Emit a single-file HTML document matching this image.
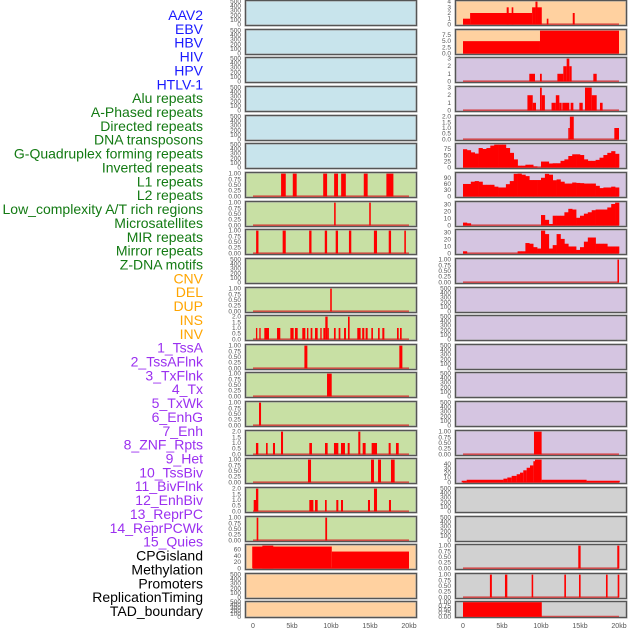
<!DOCTYPE html>
<html><head><meta charset="utf-8"><style>
html,body{margin:0;padding:0;background:#fff;width:630px;height:630px;overflow:hidden}
svg{display:block}
</style></head><body>
<svg id="chart" width="630" height="630" xmlns="http://www.w3.org/2000/svg"></svg>
<script>
// ---- labels ----
const labelTexts = ["AAV2","EBV","HBV","HIV","HPV","HTLV-1","Alu repeats","A-Phased repeats","Directed repeats","DNA transposons","G-Quadruplex forming repeats","Inverted repeats","L1 repeats","L2 repeats","Low_complexity A/T rich regions","Microsatellites","MIR repeats","Mirror repeats","Z-DNA motifs","CNV","DEL","DUP","INS","INV","1_TssA","2_TssAFlnk","3_TxFlnk","4_Tx","5_TxWk","6_EnhG","7_Enh","8_ZNF_Rpts","9_Het","10_TssBiv","11_BivFlnk","12_EnhBiv","13_ReprPC","14_ReprPCWk","15_Quies","CPGisland","Methylation","Promoters","ReplicationTiming","TAD_boundary"];
const labelGroups = [0,0,0,0,0,0,1,1,1,1,1,1,1,1,1,1,1,1,1,2,2,2,2,2,3,3,3,3,3,3,3,3,3,3,3,3,3,3,3,4,4,4,4,4];
const groupColors = ["#1a1aff","#137a13","#ffa500","#9b30f0","#000000"];

// ---- tick label arrays ----
const ticksEmpty = ["0","100","200","300","400","500"];
const ticksEmptyVals = [0,100,200,300,400,500];
const ticksUnit = ["0.00","0.25","0.50","0.75","1.00"];
const ticksUnitVals = [0,0.25,0.5,0.75,1];
const ticksTwo = ["0.0","0.5","1.0","1.5","2.0"];
const ticksTwoVals = [0,0.5,1,1.5,2];
const ticksCpg = ["0","20","40","60"];
const ticksCpgVals = [0,20,40,60];
const ticksAav = ["0","1","2","3","4"];
const ticksAavVals = [0,1,2,3,4];
const ticksEbv = ["0.0","2.5","5.0","7.5"];
const ticksEbvVals = [0,2.5,5,7.5];
const ticksThree = ["0","1","2","3"];
const ticksThreeVals = [0,1,2,3];
const ticksGquad = ["0","25","50","75"];
const ticksGquadVals = [0,25,50,75];
const ticksL1 = ["0","30","60","90"];
const ticksL1Vals = [0,30,60,90];
const ticksThirty = ["0","10","20","30"];
const ticksThirtyVals = [0,10,20,30];
const ticksForty = ["0","10","20","30","40"];
const ticksFortyVals = [0,10,20,30,40];
const xTickLabels = ["0","5kb","10kb","15kb","20kb"];
const xTickVals = [0,5,10,15,20];

// ---- left column data: [startKb, endKb, value] ----
const leftL1 = [[3.6,4.2,1],[5.1,5.6,1],[9.0,9.5,1],[10.4,10.9,1],[11.3,11.9,1],[14.2,14.7,1],[17.1,18.0,1]];
const leftL2 = [[10.4,10.6,1],[14.9,15.1,1]];
const leftLowComplex = [[0.4,0.7,1],[3.8,4.2,1],[7.2,7.5,1],[9.2,9.5,1],[10.6,10.9,1],[12.3,12.6,1],[15.5,15.9,1],[17.4,17.7,1],[19.4,19.6,1]];
const leftCnv = [[9.9,10.1,1]];
const leftDel = [[0.38,0.55,1],[0.81,0.98,1],[1.45,2.05,1],[3.08,3.5,1],[4.79,5.21,1],[5.38,5.73,1],[6.32,6.71,1],[6.92,7.1,1],[7.39,7.61,1],[7.95,8.29,1],[8.63,8.8,1],[9.02,9.27,1],[9.27,9.57,2],[9.57,9.66,1],[10.38,10.6,1],[10.98,11.2,1],[11.67,11.92,1],[12.18,12.39,2],[13.37,13.8,1],[14.0,14.27,1],[14.44,14.7,1],[15.17,15.38,1],[16.03,16.24,1],[16.58,16.84,1],[18.46,18.68,1],[18.85,19.06,1]];
const leftRow12 = [[6.59,6.97,1],[18.76,19.15,1]];
const leftRow13 = [[9.49,10.09,1]];
const leftRow14 = [[0.77,1.03,1]];
const leftRow15 = [[0.38,0.68,1],[1.67,1.88,1],[2.56,2.82,1],[3.59,3.85,2],[7.22,7.56,1],[9.23,9.57,1],[10.38,10.94,1],[11.28,11.79,1],[12.14,12.39,1],[13.5,13.76,2],[14.06,14.44,1],[15.21,15.9,1],[17.39,17.65,1],[18.33,18.68,1]];
const leftRow16 = [[7.05,7.44,1],[15.13,15.51,1],[16.03,16.41,1],[17.69,18.16,1]];
const leftRow17 = [[0.09,0.43,1],[0.38,0.68,2],[7.22,7.74,1],[7.95,8.29,1],[9.23,9.45,1],[10.68,10.94,1],[11.28,11.54,1],[14.74,15.0,1],[15.51,15.9,2],[17.43,17.69,1]];
const leftRow18 = [[0.47,0.68,1],[9.27,9.5,1]];
const leftCpg = [[-0.1,10.1,70],[1.2,2.6,73],[10.1,20,54]];

// ---- right column data ----
const rightAav2 = [[0,0.91,1],[0.91,8.86,2],[5.6,5.86,3],[6.24,6.45,3],[8.86,9.29,3],[9.29,9.55,4],[9.55,10.1,3],[10.74,10.95,1],[14.07,14.32,2]];
const rightEbv = [[0,9.87,5],[9.87,20,9.3]];
const rightHiv = [[8.5,9.23,1],[9.87,10.1,1],[12.1,12.86,1],[12.86,13.29,2],[13.29,13.63,3],[13.63,13.93,2],[16.71,17.14,1]];
const rightHpv = [[8.26,8.94,2],[8.94,9.36,1],[9.87,10.1,3],[10.1,10.5,2],[11.35,11.9,1],[11.9,12.35,2],[12.35,12.65,1],[12.73,13.63,1],[13.8,14.15,1],[14.92,15.35,1],[15.64,16.5,3],[16.5,17.14,2],[17.56,17.9,1]];
const rightAlu = [[13.5,13.7,1],[13.7,14.2,2],[19.4,20,1]];
const rightGquadBins = [75,71,62,57,80,76,80,90,94,94,94,80,60,33,7,7,11,11,4,0,24,24,16,17,17,27,33,47,54,54,51,33,27,27,31,40,51,60,67,56];
const rightL1Bins = [60,60,71,74,71,56,56,56,47,43,43,59,74,109,110,105,98,79,79,79,90,109,105,78,82,71,62,62,67,65,64,62,62,62,51,40,43,43,47,43];
const rightLowCompBins = [4,3,0,0,0,0,0,0,0,0,0,0,0,0,0,0,0,0,0,0,15,8,2,14,14,14,19,24,23,11,14,17,19,22,23,23,23,26,31,33];
const rightMicroBins = [3,0,0,0,0,0,0,0,0,0,0,0,0,0,3,3,15,14,9,7,33,28,7,12,28,21,14,10,10,5,9,17,23,23,14,14,14,10,10,10];
const rightZdna = [[19.8,20,1]];
const rightRow15 = [[9.1,10.08,1]];
const rightRow16 = [[-0.17,0.47,3.5],[0.47,5.18,5.6],[5.18,5.68,8],[5.68,6.24,10.5],[6.24,6.88,14],[6.88,7.31,17.5],[7.31,7.73,21],[7.73,8.16,26],[8.16,8.59,31.5],[8.59,9.02,36.5],[9.02,9.23,45.6],[9.23,10.08,49],[10.08,15.85,5.6],[15.85,20.1,3.5]];
const rightRow19 = [[14.78,15.08,1],[19.78,20.04,1]];
const rightRow20 = [[3.45,3.7,1],[5.38,5.68,1],[8.8,9.0,1],[12.99,13.2,1],[14.87,15.08,1],[18.33,18.54,1],[19.83,20.04,1]];
const rightRow21 = [[0,10.1,1]];

const BG = {blue:"#c8e4ec", green:"#c8e0a4", orange:"#ffd1a0", purple:"#d5c5e1", gray:"#d1d1d1"};
// rows: [leftBg, leftData, leftBins, leftTicks, leftTickVals, leftMax, rightBg, rightData, rightBins, rightTicks, rightTickVals, rightMax]
const rows = [
 ["blue",null,null,ticksEmpty,ticksEmptyVals,500,"orange",rightAav2,null,ticksAav,ticksAavVals,4],
 ["blue",null,null,ticksEmpty,ticksEmptyVals,500,"orange",rightEbv,null,ticksEbv,ticksEbvVals,9.3],
 ["blue",null,null,ticksEmpty,ticksEmptyVals,500,"purple",rightHiv,null,ticksThree,ticksThreeVals,3],
 ["blue",null,null,ticksEmpty,ticksEmptyVals,500,"purple",rightHpv,null,ticksThree,ticksThreeVals,3],
 ["blue",null,null,ticksEmpty,ticksEmptyVals,500,"purple",rightAlu,null,ticksTwo,ticksTwoVals,2],
 ["blue",null,null,ticksEmpty,ticksEmptyVals,500,"purple",null,rightGquadBins,ticksGquad,ticksGquadVals,94],
 ["green",leftL1,null,ticksUnit,ticksUnitVals,1,"purple",null,rightL1Bins,ticksL1,ticksL1Vals,110],
 ["green",leftL2,null,ticksUnit,ticksUnitVals,1,"purple",null,rightLowCompBins,ticksThirty,ticksThirtyVals,33],
 ["green",leftLowComplex,null,ticksUnit,ticksUnitVals,1,"purple",null,rightMicroBins,ticksThirty,ticksThirtyVals,33],
 ["green",null,null,ticksEmpty,ticksEmptyVals,500,"purple",rightZdna,null,ticksUnit,ticksUnitVals,1],
 ["green",leftCnv,null,ticksUnit,ticksUnitVals,1,"purple",null,null,ticksEmpty,ticksEmptyVals,500],
 ["green",leftDel,null,ticksTwo,ticksTwoVals,2,"purple",null,null,ticksEmpty,ticksEmptyVals,500],
 ["green",leftRow12,null,ticksUnit,ticksUnitVals,1,"purple",null,null,ticksEmpty,ticksEmptyVals,500],
 ["green",leftRow13,null,ticksUnit,ticksUnitVals,1,"purple",null,null,ticksEmpty,ticksEmptyVals,500],
 ["green",leftRow14,null,ticksUnit,ticksUnitVals,1,"purple",null,null,ticksEmpty,ticksEmptyVals,500],
 ["green",leftRow15,null,ticksTwo,ticksTwoVals,2,"purple",rightRow15,null,ticksUnit,ticksUnitVals,1],
 ["green",leftRow16,null,ticksUnit,ticksUnitVals,1,"purple",rightRow16,null,ticksForty,ticksFortyVals,49],
 ["green",leftRow17,null,ticksTwo,ticksTwoVals,2,"gray",null,null,ticksEmpty,ticksEmptyVals,500],
 ["green",leftRow18,null,ticksUnit,ticksUnitVals,1,"gray",null,null,ticksEmpty,ticksEmptyVals,500],
 ["orange",leftCpg,null,ticksCpg,ticksCpgVals,73,"gray",rightRow19,null,ticksUnit,ticksUnitVals,1],
 ["orange",null,null,ticksEmpty,ticksEmptyVals,500,"gray",rightRow20,null,ticksUnit,ticksUnitVals,1],
 ["orange",null,null,ticksEmpty,ticksEmptyVals,500,"gray",rightRow21,null,ticksUnit,ticksUnitVals,1]
];

const svg = document.getElementById('chart');
const NS = "http://www.w3.org/2000/svg";
function mk(tag, attrs, parent){
  const e = document.createElementNS(NS, tag);
  for (const k in attrs) e.setAttribute(k, attrs[k]);
  (parent||svg).appendChild(e);
  return e;
}
// labels
labelTexts.forEach((t,i)=>{
  const el = mk('text',{x:203,y:20+i*13.86,'text-anchor':'end','font-size':'14','font-family':'Liberation Sans, sans-serif',fill:groupColors[labelGroups[i]]});
  
  
  el.textContent = t;
});
const colX = [245,455];
const PW = 171;
function xScale(col, kb){ return colX[col] + 8 + kb*7.8; }
function rowTop(i){ return i<21 ? Math.round(28.65*i) : 601; }
function rowH(i){ return i<21 ? 25 : 16; }
function drawPanel(i, col, bg, data, bins, ticks, tickVals, M){
  const top = rowTop(i)+0.5, h = rowH(i), x0 = colX[col]+0.5;
  const g = mk('g',{});
  
  
  mk('rect',{x:x0,y:top,width:PW,height:h,fill:BG[bg],stroke:'#9a9a9a','stroke-width':2},g);
  const yS = v => top + h*(1.05*M - v)/(1.1*M);
  const clipId = 'c'+i+'_'+col;
  const cp = mk('clipPath',{id:clipId},g);
  mk('rect',{x:x0,y:top,width:PW,height:h},cp);
  const dg = mk('g',{'clip-path':'url(#'+clipId+')'},g);
  const hasData = data || bins;
  if (hasData){
    mk('line',{x1:xScale(col,0),x2:xScale(col,20),y1:yS(0),y2:yS(0),stroke:'rgba(210,40,40,0.75)','stroke-width':2},dg);
  }
  if (data){
    data.forEach(d=>{
      const r = mk('rect',{x:xScale(col,d[0]),y:yS(d[2]),width:Math.max(1.2,xScale(col,d[1])-xScale(col,d[0])),height:yS(0)-yS(d[2]),fill:'#ff0000'},dg);
      
      
    });
  }
  if (bins){
    bins.forEach((v,k)=>{
      if (v<=0) return;
      const r = mk('rect',{x:xScale(col,k*0.5),y:yS(v),width:xScale(col,(k+1)*0.5)-xScale(col,k*0.5)+0.3,height:yS(0)-yS(v),fill:'#ff0000'},dg);
      
      
    });
  }
  mk('rect',{x:x0,y:top,width:PW,height:h,fill:'none',stroke:'#555','stroke-width':1},g);
  ticks.forEach((t,k)=>{
    const tx = mk('text',{x:colX[col]-4,y:yS(tickVals[k])+2,'text-anchor':'end','font-size':'6.5','font-family':'Liberation Sans, sans-serif',fill:'#555'},g);
    
    
    tx.textContent = t;
  });
}
rows.forEach((r,i)=>{
  drawPanel(i,0,r[0],r[1],r[2],r[3],r[4],r[5]);
  drawPanel(i,1,r[6],r[7],r[8],r[9],r[10],r[11]);
});
[0,1].forEach(col=>{
  xTickLabels.forEach((t,k)=>{
    const tx = mk('text',{x:xScale(col,xTickVals[k]),y:628,'text-anchor':'middle','font-size':'7','font-family':'Liberation Sans, sans-serif',fill:'#555'});
    
    
    tx.textContent = t;
  });
});
</script>
</body></html>
